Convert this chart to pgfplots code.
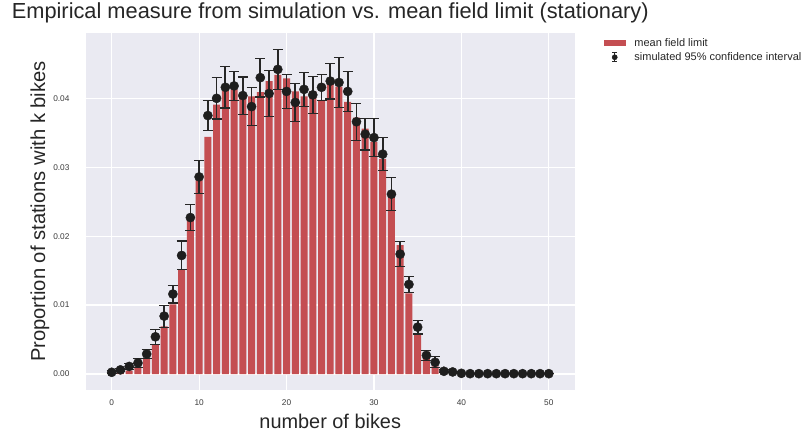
\documentclass[border=0pt]{standalone}
\usepackage{fontspec}
\setmainfont{Liberation Sans}
\usepackage{pgfplots}
\pgfplotsset{compat=1.18}

\definecolor{bgcol}{HTML}{EAEAF2}
\definecolor{barcol}{HTML}{C44E52}
\definecolor{dotcol}{HTML}{1E1E1E}
\definecolor{errcol}{HTML}{262626}
\definecolor{textcol}{HTML}{262626}
\definecolor{tickcol}{HTML}{3A3A3A}

\begin{document}
\begin{tikzpicture}
\path[use as bounding box] (-86pt,-47pt) rectangle (718pt,390pt);
\begin{axis}[
  at={(0pt,0pt)}, anchor=south west,
  scale only axis,
  width=488.5pt, height=357pt,
  xmin=-2.94, xmax=52.94,
  ymin=-0.00232, ymax=0.04948,
  xtick={0,10,20,30,40,50},
  ytick={0,0.01,0.02,0.03,0.04},
  scaled y ticks=false,
  yticklabel style={/pgf/number format/fixed, /pgf/number format/fixed zerofill,
    /pgf/number format/precision=2},
  /pgf/number format/assume math mode=true,
  tick label style={font=\fontsize{8.3}{10}\selectfont, color=tickcol},
  xticklabel style={anchor=base, yshift=-15pt},
  yticklabel style={anchor=east, xshift=-13pt},
  major tick length=0pt,
  axis line style={draw=none},
  axis background/.style={fill=bgcol},
  grid=major,
  grid style={white, line width=1.2pt},
  title={Empirical measure from simulation vs. mean field limit (stationary)},
  title style={at={(axis description cs:0.5,1)}, anchor=base, yshift=8pt,
    font=\fontsize{21.8}{25}\selectfont, color=textcol},
  xlabel={number of bikes},
  ylabel={Proportion of stations with k bikes},
  every axis x label/.style={at={(axis description cs:0.5,0)}, anchor=base,
    yshift=-38pt, font=\fontsize{19.9}{23}\selectfont, color=textcol},
  every axis y label/.style={at={(axis description cs:-0.0839,0.5)}, rotate=90,
    anchor=base, font=\fontsize{20.2}{23}\selectfont, color=textcol},
  legend style={at={(axis description cs:1.059,0.992)}, anchor=north west,
    draw=none, fill=none, font=\fontsize{11}{13}\selectfont,
    text=textcol, row sep=1pt, inner sep=0pt},
  legend cell align=left,
]
\addplot[ybar, bar width=0.8, fill=barcol, draw=none,
  legend image code/.code={\fill[barcol] (0pt,-3pt) rectangle (22pt,3pt);
    \path (28.5pt,0pt);}]
coordinates {
  (0,0.0001) (1,0.0002) (2,0.0005) (3,0.0009) (4,0.0022)
  (5,0.0042) (6,0.0069) (7,0.0101) (8,0.0151) (9,0.0228)
  (10,0.0281) (11,0.0344) (12,0.0391) (13,0.0411) (14,0.0413)
  (15,0.0403) (16,0.0403) (17,0.0409) (18,0.0425) (19,0.0434)
  (20,0.0429) (21,0.0410) (22,0.0403) (23,0.0410) (24,0.0397)
  (25,0.0422) (26,0.0417) (27,0.0395) (28,0.0372) (29,0.0356)
  (30,0.0337) (31,0.0312) (32,0.0257) (33,0.0187) (34,0.0117)
  (35,0.0057) (36,0.0032) (37,0.0011) (38,0.0004) (39,0.0002)
  (40,0.0001) (41,0) (42,0) (43,0) (44,0) (45,0) (46,0) (47,0)
  (48,0) (49,0) (50,0)
};
\addlegendentry{mean field limit}

\addplot[only marks, mark=*, mark size=4.6pt, color=dotcol,
  error bars/.cd, y dir=both, y explicit,
  error bar style={line width=1.7pt, color=errcol},
  error mark options={rotate=90, mark size=5pt, line width=1.1pt, color=errcol},
  /pgfplots/legend image code/.code={
    \draw[errcol, line width=1.4pt] (11pt,-4.5pt) -- (11pt,4.5pt);
    \draw[errcol, line width=0.8pt] (8.5pt,-4.5pt) -- (13.5pt,-4.5pt);
    \draw[errcol, line width=0.8pt] (8.5pt,4.5pt) -- (13.5pt,4.5pt);
    \fill[dotcol] (11pt,0pt) circle (2.6pt);
    \path (0pt,0pt) (28.5pt,0pt);}]
coordinates {
  (0,0.00025) +- (0,0.0002)
  (1,0.0006) +- (0,0.0002)
  (2,0.0011) +- (0,0.0004)
  (3,0.0016) +- (0,0.0006)
  (4,0.0029) +- (0,0.0007)
  (5,0.0054) +- (0,0.0011)
  (6,0.0084) +- (0,0.0016)
  (7,0.0116) +- (0,0.0013)
  (8,0.0172) +- (0,0.0021)
  (9,0.0227) +- (0,0.0019)
  (10,0.0286) +- (0,0.0024)
  (11,0.0375) +- (0,0.0022)
  (12,0.0400) +- (0,0.0030)
  (13,0.0416) +- (0,0.0030)
  (14,0.0418) +- (0,0.0021)
  (15,0.0404) +- (0,0.0027)
  (16,0.0388) +- (0,0.0028)
  (17,0.0430) +- (0,0.0028)
  (18,0.0407) +- (0,0.0033)
  (19,0.0442) +- (0,0.0029)
  (20,0.0410) +- (0,0.0025)
  (21,0.0394) +- (0,0.0028)
  (22,0.0413) +- (0,0.0025)
  (23,0.0405) +- (0,0.0027)
  (24,0.0416) +- (0,0.0019)
  (25,0.0425) +- (0,0.0026)
  (26,0.0423) +- (0,0.0036)
  (27,0.0410) +- (0,0.0029)
  (28,0.0366) +- (0,0.0027)
  (29,0.0348) +- (0,0.0023)
  (30,0.0343) +- (0,0.0028)
  (31,0.0319) +- (0,0.0024)
  (32,0.0261) +- (0,0.0024)
  (33,0.0174) +- (0,0.0018)
  (34,0.0130) +- (0,0.0012)
  (35,0.0068) +- (0,0.0010)
  (36,0.0027) +- (0,0.0007)
  (37,0.0017) +- (0,0.0008)
  (38,0.0004) +- (0,0.0002)
  (39,0.0003) +- (0,0.0001)
  (40,0.0001) +- (0,0)
  (41,0.00005) +- (0,0)
  (42,0.00005) +- (0,0)
  (43,0.00005) +- (0,0)
  (44,0.00005) +- (0,0)
  (45,0.00005) +- (0,0)
  (46,0.00005) +- (0,0)
  (47,0.00005) +- (0,0)
  (48,0.00005) +- (0,0)
  (49,0.00005) +- (0,0)
  (50,0.00005) +- (0,0)
};
\addlegendentry{simulated 95\% confidence interval}
\end{axis}
\end{tikzpicture}
\end{document}
